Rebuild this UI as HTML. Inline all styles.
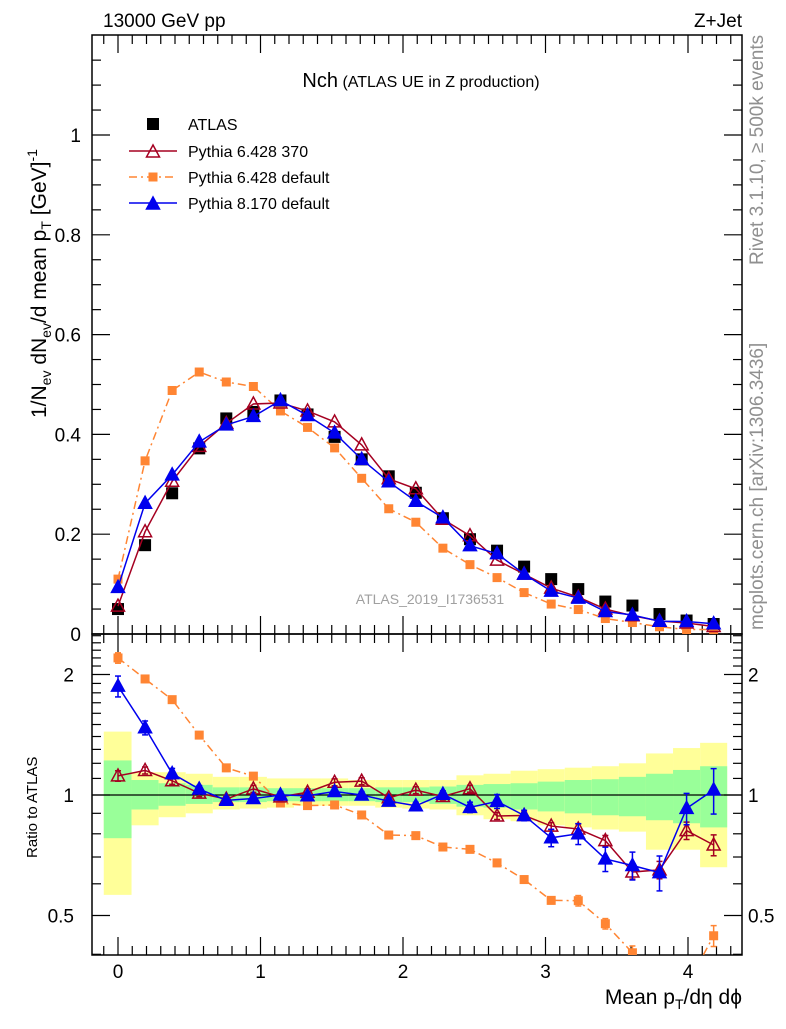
<!DOCTYPE html>
<html><head><meta charset="utf-8"><style>
body{margin:0;background:#fff;width:786px;height:1024px;overflow:hidden}
svg{font-family:"Liberation Sans",sans-serif}
</style></head><body>
<svg id="c" width="786" height="1024" xmlns="http://www.w3.org/2000/svg"></svg>
<script>
const xVals=[0,0.19,0.38,0.57,0.76,0.95,1.14,1.33,1.52,1.71,1.9,2.09,2.28,2.47,2.66,2.85,3.04,3.23,3.42,3.61,3.8,3.99,4.18];
const atlas=[0.05,0.178,0.282,0.372,0.432,0.445,0.468,0.44,0.395,0.35,0.316,0.283,0.232,0.19,0.167,0.135,0.11,0.09,0.065,0.057,0.04,0.027,0.02];
const py8=[0.0935,0.262,0.319,0.385,0.419,0.436,0.468,0.438,0.403,0.35,0.305,0.266,0.233,0.177,0.161,0.12,0.086,0.072,0.045,0.038,0.0256,0.025,0.0206];
const py6370=[0.0558,0.205,0.306,0.376,0.422,0.461,0.463,0.447,0.425,0.379,0.311,0.291,0.23,0.197,0.148,0.12,0.092,0.074,0.05,0.0366,0.026,0.022,0.015];
const py6def=[0.11,0.347,0.488,0.525,0.505,0.496,0.447,0.414,0.373,0.312,0.251,0.224,0.172,0.139,0.113,0.083,0.06,0.049,0.031,0.023,0.0145,0.009,0.0089];
const py8Err=[0.06,0.04,0.03,0.02,0.02,0.02,0.02,0.02,0.02,0.02,0.02,0.02,0.02,0.03,0.04,0.03,0.05,0.06,0.07,0.08,0.1,0.09,0.13];
const py6Err=[0.03,0.02,0.02,0.02,0.02,0.02,0.02,0.02,0.02,0.02,0.02,0.02,0.02,0.02,0.02,0.02,0.02,0.03,0.03,0.04,0.05,0.05,0.06];
const yelHi=[1.44,1.14,1.14,1.13,1.11,1.11,1.10,1.10,1.10,1.09,1.09,1.09,1.09,1.12,1.13,1.15,1.16,1.17,1.18,1.2,1.27,1.31,1.35];
const yelLo=[0.563,0.84,0.88,0.9,0.92,0.925,0.93,0.94,0.94,0.94,0.93,0.925,0.92,0.89,0.87,0.86,0.84,0.83,0.82,0.81,0.73,0.73,0.66];
const grnHi=[1.22,1.09,1.07,1.06,1.045,1.045,1.04,1.04,1.04,1.04,1.045,1.045,1.05,1.06,1.065,1.07,1.08,1.09,1.095,1.11,1.13,1.155,1.18];
const grnLo=[0.78,0.92,0.94,0.95,0.96,0.96,0.965,0.965,0.965,0.965,0.96,0.96,0.95,0.935,0.93,0.92,0.91,0.9,0.89,0.885,0.865,0.85,0.83];
const mainTicks=[0,0.2,0.4,0.6,0.8,1];
const ratioTicks=[0.5,1,2];
const xTicks=[0,1,2,3,4];

const S=document.getElementById('c');const NS='http://www.w3.org/2000/svg';
function el(t,a,p){const e=document.createElementNS(NS,t);for(const k in a)e.setAttribute(k,a[k]);(p||S).appendChild(e);return e;}
const L=92,R=742,T=35,M=634,B=955;
const X=v=>118+v*142.5;
const Y=v=>634-v*499;
const YR=r=>795-Math.log2(r)*120.5;
const hw=0.095;
const cp=el('clipPath',{id:'rc'});el('rect',{x:L,y:M,width:R-L,height:B-M},cp);
const bandG=el('g',{'clip-path':'url(#rc)'});
xVals.forEach((x,i)=>{
 const x0=i==0?X(-0.1):X(x-hw),x1=X(x+hw);
 const r1=el('rect',{x:x0,y:YR(yelHi[i]),width:x1-x0,height:YR(yelLo[i])-YR(yelHi[i]),fill:'#ffff99'},bandG);
 
 const r2=el('rect',{x:x0,y:YR(grnHi[i]),width:x1-x0,height:YR(grnLo[i])-YR(grnHi[i]),fill:'#99ff99'},bandG);
 
});
el('line',{x1:L,x2:R,y1:795,y2:795,stroke:'#000','stroke-width':1.3});
function frame(y0,y1){el('rect',{x:L,y:y0,width:R-L,height:y1-y0,fill:'none',stroke:'#000','stroke-width':1.5});}
frame(T,M);frame(M,B);
for(let v=-0.1;v<=4.35;v+=0.1){v=Math.round(v*10)/10;const x=X(v);if(x<L||x>R)continue;const maj=Math.abs(v-Math.round(v))<1e-6;const l=maj?18:9;
 [[M,-1],[T,1],[B,-1],[M,1]].forEach(([y,d])=>el('line',{x1:x,x2:x,y1:y,y2:y+d*l,stroke:'#000','stroke-width':1.2}));}
for(let v=0;v<=1.19;v+=0.05){v=Math.round(v*100)/100;const y=Y(v);if(y<T)continue;const maj=Math.abs(v*5-Math.round(v*5))<1e-6;const l=maj?18:9;
 el('line',{x1:L,x2:L+l,y1:y,y2:y,stroke:'#000','stroke-width':1.2});el('line',{x1:R,x2:R-l,y1:y,y2:y,stroke:'#000','stroke-width':1.2});}
[0.4,0.5,0.6,0.7,0.8,0.9,1,1.1,1.2,1.3,1.4,1.5,1.6,1.7,1.8,1.9,2,2.1,2.2,2.3,2.4,2.5].forEach(r=>{const y=YR(r);if(y<M||y>B)return;const l=(r==0.5||r==1||r==2)?18:9;
 el('line',{x1:L,x2:L+l,y1:y,y2:y,stroke:'#000','stroke-width':1.2});el('line',{x1:R,x2:R-l,y1:y,y2:y,stroke:'#000','stroke-width':1.2});});
function txt(s,a,name){const t=el('text',a);t.innerHTML=s;return t;}
mainTicks.forEach(v=>txt(String(v),{x:81,y:Y(v)+7,'font-size':19,'text-anchor':'end'},'y-tick-label'));
ratioTicks.forEach(v=>{txt(String(v),{x:74,y:YR(v)+7,'font-size':19,'text-anchor':'end'},'ratio-tick-label');txt(String(v),{x:748,y:YR(v)+7,'font-size':19},'ratio-tick-label-right');});
xTicks.forEach(v=>txt(String(v),{x:X(v),y:978,'font-size':19,'text-anchor':'middle'},'x-tick-label'));
function series(vals,color,dash,marker,name){
 const g=el('g',{});
 const pts=xVals.map((x,i)=>[X(x),Y(vals[i])]);
 if(color)el('polyline',{points:pts.map(p=>p.join(',')).join(' '),fill:'none',stroke:color,'stroke-width':1.5,'stroke-dasharray':dash||'none'},g);
 pts.forEach(p=>marker(p[0],p[1],g));
}
const sq=(c,s)=>(x,y,g)=>{const m=el('rect',{x:x-s/2,y:y-s/2,width:s,height:s,fill:c},g);};
const tri=(c,fill)=>(x,y,g)=>{const m=el('polygon',{points:`${x},${y-7} ${x-6.5},${y+5} ${x+6.5},${y+5}`,fill:fill?c:'#fff','fill-opacity':fill?1:0,stroke:c,'stroke-width':1.5},g);};
series(atlas,null,null,sq('#000',12),'atlas-data');
series(py6def,'#ff8533','8,4,2,4',sq('#ff8533',9),'pythia6-default');
series(py6370,'#a50021',null,tri('#a50021',false),'pythia6-370');
series(py8,'#0000ee',null,tri('#0000ee',true),'pythia8-default');
const rg=el('g',{'clip-path':'url(#rc)'});
function seriesR(vals,color,dash,marker,name,err){
 const g=el('g',{},rg);
 const pts=xVals.map((x,i)=>[X(x),YR(vals[i]/atlas[i])]);
 el('polyline',{points:pts.map(p=>p.join(',')).join(' '),fill:'none',stroke:color,'stroke-width':1.5,'stroke-dasharray':dash||'none'},g);
 pts.forEach((p,i)=>{const r=vals[i]/atlas[i];const a=YR(r*(1+err[i])),b=YR(r*(1-err[i]));
  el('line',{x1:p[0],x2:p[0],y1:a,y2:b,stroke:color,'stroke-width':1.5},g);
  el('line',{x1:p[0]-3,x2:p[0]+3,y1:a,y2:a,stroke:color,'stroke-width':1.5},g);
  el('line',{x1:p[0]-3,x2:p[0]+3,y1:b,y2:b,stroke:color,'stroke-width':1.5},g);
  marker(p[0],p[1],g);});
}
seriesR(py6def,'#ff8533','8,4,2,4',sq('#ff8533',9),'ratio-pythia6-default',py6Err);
seriesR(py6370,'#a50021',null,tri('#a50021',false),'ratio-pythia6-370',py6Err);
seriesR(py8,'#0000ee',null,tri('#0000ee',true),'ratio-pythia8-default',py8Err);
const lg=el('g',{});
const ly=[124,151,177,203];
sq('#000',12)(153,ly[0],lg);
el('line',{x1:129,x2:177,y1:ly[1],y2:ly[1],stroke:'#a50021','stroke-width':1.5},lg);tri('#a50021',false)(153,ly[1]+1,lg);
el('line',{x1:129,x2:177,y1:ly[2],y2:ly[2],stroke:'#ff8533','stroke-width':1.5,'stroke-dasharray':'8,4,2,4'},lg);sq('#ff8533',9)(153,ly[2],lg);
el('line',{x1:129,x2:177,y1:ly[3],y2:ly[3],stroke:'#0000ee','stroke-width':1.5},lg);tri('#0000ee',true)(153,ly[3]+1,lg);
['ATLAS','Pythia 6.428 370','Pythia 6.428 default','Pythia 8.170 default'].forEach((s,i)=>txt(s,{x:188,y:ly[i]+6,'font-size':16},'legend-entry'));
</script>
<svg width="786" height="1024" style="position:absolute;left:0;top:0">
<text x="103" y="27" font-size="19" font-family="Liberation Sans">13000 GeV pp</text>
<text x="742" y="27" font-size="19" text-anchor="end" font-family="Liberation Sans">Z+Jet</text>
<text x="421" y="87" text-anchor="middle" font-family="Liberation Sans"><tspan font-size="20">Nch</tspan><tspan font-size="16"> (ATLAS UE in Z production)</tspan></text>
<text x="430" y="604" font-size="14" fill="#a0a0a0" text-anchor="middle" font-family="Liberation Sans">ATLAS_2019_I1736531</text>
<text transform="translate(763,265) rotate(-90)" font-size="19" fill="#909090" font-family="Liberation Sans">Rivet 3.1.10, ≥ 500k events</text>
<text transform="translate(763,630) rotate(-90)" font-size="19" fill="#909090" font-family="Liberation Sans">mcplots.cern.ch [arXiv:1306.3436]</text>
<text transform="translate(46,418) rotate(-90)" font-size="21" font-family="Liberation Sans">1/N<tspan font-size="14" dy="5">ev</tspan><tspan dy="-5"> dN</tspan><tspan font-size="14" dy="5">ev</tspan><tspan dy="-5">/d mean p</tspan><tspan font-size="14" dy="5">T</tspan><tspan dy="-5"> [GeV]</tspan><tspan font-size="14" dy="-9">-1</tspan></text>
<text transform="translate(37,858) rotate(-90)" font-size="15" font-family="Liberation Sans">Ratio to ATLAS</text>
<text x="742" y="1004" font-size="21" text-anchor="end" font-family="Liberation Sans">Mean p<tspan font-size="14" dy="5">T</tspan><tspan dy="-5">/dη dϕ</tspan></text>
</svg>
</body></html>
